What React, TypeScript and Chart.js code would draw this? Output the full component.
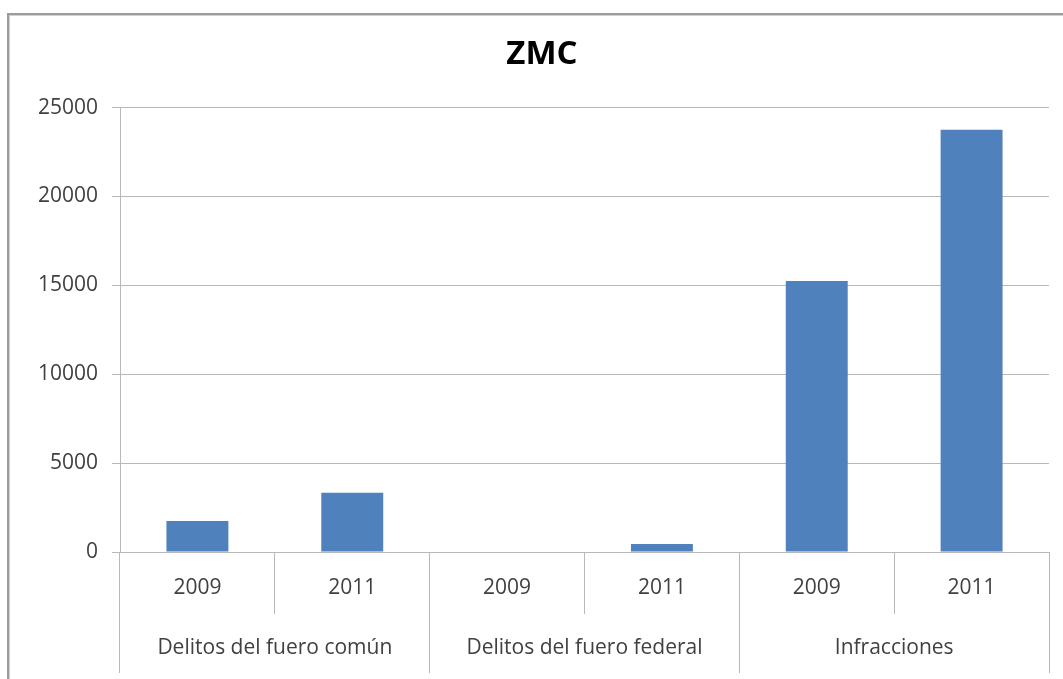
import React, { useEffect, useRef } from "react";
import { Chart, registerables } from "chart.js";

Chart.register(...registerables);

const title = "ZMC";
const years = ["2009", "2011", "2009", "2011", "2009", "2011"];
const groups = ["Delitos del fuero común", "Delitos del fuero federal", "Infracciones"];
const values = [1750, 3330, 0, 450, 15250, 23750];
const yTicks = [0, 5000, 10000, 15000, 20000, 25000];

const FONT = "'Open Sans', 'Liberation Sans', sans-serif";
const GRID = "#b8b8b8";
const TEXT = "#404040";
const BAR = "#4f81bd";

export default function App() {
  const ref = useRef<HTMLCanvasElement | null>(null);

  useEffect(() => {
    if (!ref.current) return;
    const chart = new Chart(ref.current, {
      type: "bar",
      data: {
        labels: years,
        datasets: [
          {
            label: title,
            data: values,
            backgroundColor: BAR,
            borderWidth: 0,
            barPercentage: 0.8,
            categoryPercentage: 0.5,
            xAxisID: "x",
            yAxisID: "y",
          },
        ],
      },
      options: {
        responsive: false,
        animation: false,
        layout: { padding: { left: 35, right: 14, top: 14, bottom: 0 } },
        plugins: {
          legend: { display: false },
          tooltip: { enabled: false },
          title: {
            display: true,
            text: title,
            color: "#000",
            font: { family: FONT, size: 33, weight: "bold" },
            padding: { top: 21, bottom: 33 },
          },
        },
        scales: {
          x: {
            type: "category",
            position: "bottom",
            offset: true,
            grid: {
              offset: true,
              drawOnChartArea: false,
              drawTicks: true,
              tickLength: 62,
              color: GRID,
              lineWidth: 1,
            },
            border: { display: true, color: GRID, width: 1 },
            ticks: {
              color: TEXT,
              font: { family: FONT, size: 21 },
              padding: -39,
              maxRotation: 0,
              autoSkip: false,
            },
            afterFit: (scale: any) => {
              scale.height = 62;
            },
          },
          x2: {
            type: "category",
            position: "bottom",
            labels: groups,
            offset: true,
            grid: {
              offset: true,
              drawOnChartArea: false,
              drawTicks: true,
              tickLength: 59,
              color: GRID,
              lineWidth: 1,
            },
            border: { display: false },
            ticks: {
              color: TEXT,
              font: { family: FONT, size: 21 },
              padding: -38,
              maxRotation: 0,
              autoSkip: false,
            },
            afterFit: (scale: any) => {
              scale.height = 65;
            },
          },
          y: {
            type: "linear",
            position: "left",
            min: 0,
            max: 25000,
            afterBuildTicks: (scale: any) => {
              scale.ticks = yTicks.map((v) => ({ value: v }));
            },
            grid: {
              color: GRID,
              lineWidth: 1,
              tickLength: 8,
            },
            border: { display: true, color: GRID, width: 1 },
            ticks: {
              color: TEXT,
              font: { family: FONT, size: 21 },
              padding: 14,
              callback: (v: any) => String(v),
            },
            afterFit: (scale: any) => {
              scale.width = 85;
            },
          },
        },
      },
    });
    return () => chart.destroy();
  }, []);

  return (
    <div
      style={{
        position: "fixed",
        left: 0,
        top: 0,
        width: 1063,
        height: 679,
        background: "#fff",
        overflow: "hidden",
      }}
    >
      <div
        style={{
          position: "absolute",
          left: 7,
          top: 13,
          width: 1200,
          height: 800,
          borderTop: "2px solid #9c9c9c",
          borderLeft: "2px solid #9c9c9c",
          boxShadow: "inset 1px 1px 0 #d0d0d0",
        }}
      />
      <canvas
        ref={ref}
        width={1063}
        height={679}
        style={{ position: "absolute", left: 0, top: 0, width: 1063, height: 679 }}
      />
    </div>
  );
}
